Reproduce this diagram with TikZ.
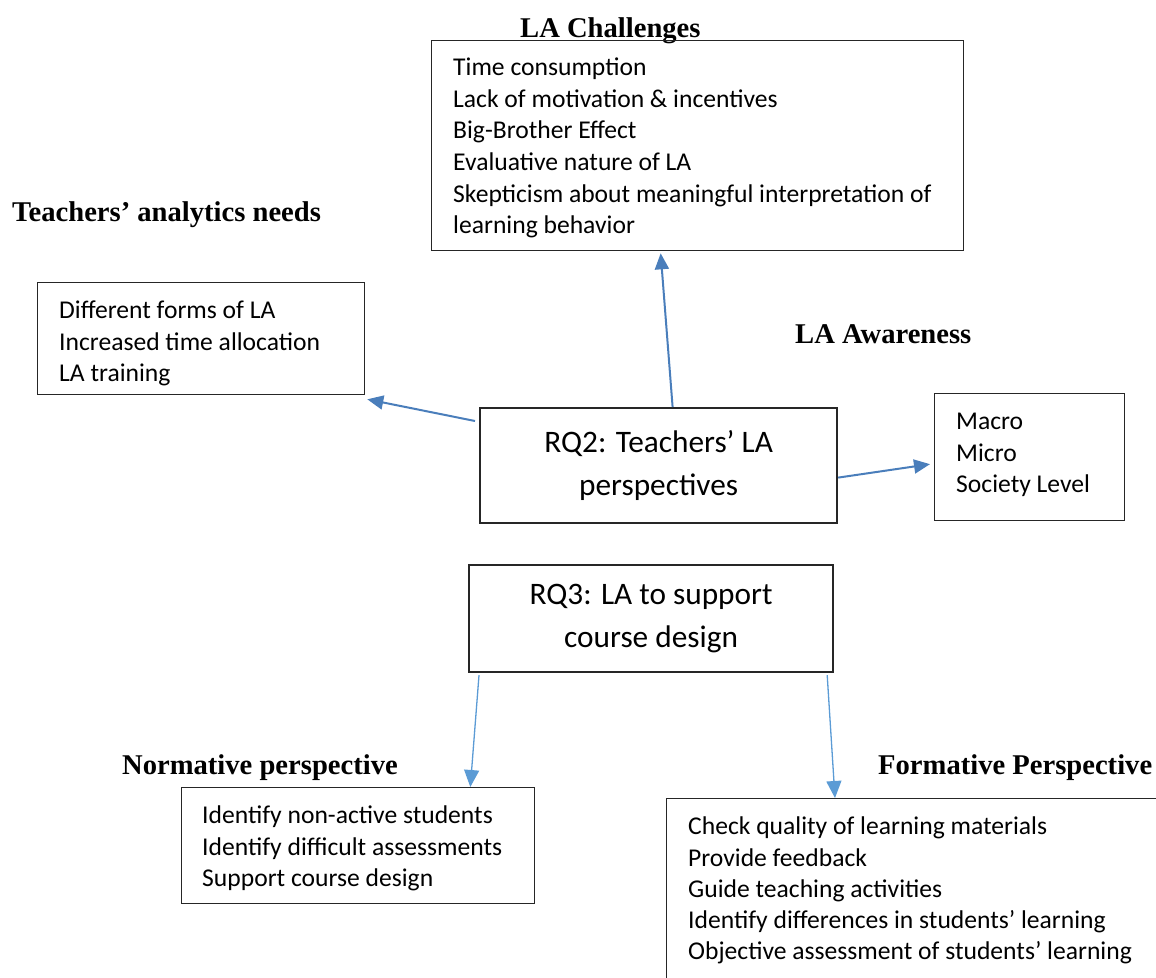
\documentclass[tikz,border=0pt]{standalone}
\usepackage{fontspec}
\setmainfont{Liberation Serif}
\newfontfamily\bodyfont{Carlito}
\usetikzlibrary{arrows.meta}

\definecolor{boxgray}{HTML}{262626}
\definecolor{arrowdark}{HTML}{4A7EBB}
\definecolor{arrowlight}{HTML}{5B9BD5}

% fixed ascent for the first line of a list, so list tops are predictable
\newcommand{\firstline}{\rule{0pt}{22pt}}

\begin{document}
\begin{tikzpicture}[x=1pt, y=-1pt,
  frame/.style={draw=boxgray, line width=1.3pt, inner sep=0pt, anchor=north west},
  listtext/.style={inner sep=0pt, anchor=north west, align=left,
    font=\bodyfont\fontsize{25.6}{31.3}\selectfont},
  rqbox/.style={draw=boxgray, line width=2.2pt, inner sep=0pt, align=center,
    anchor=north west, font=\bodyfont\fontsize{31.3}{43.5}\selectfont},
  heading/.style={inner sep=0pt, anchor=base west,
    font=\bfseries\fontsize{28.6}{34}\selectfont},
  strongarrow/.style={draw=arrowdark, line width=2pt,
    -{Triangle[length=16pt,width=14pt]}},
  lightarrow/.style={draw=arrowlight, line width=1.3pt,
    -{Triangle[length=17pt,width=15pt]}}
]
\useasboundingbox (0,0) rectangle (1156,977);

% headings
\node[heading] (hchal) at (520,37) {LA Challenges};
\node[heading] (hneeds) at (12,221) {Teachers’ analytics needs};
\node[heading] (haware) at (795,343) {LA Awareness};
\node[heading] (hnorm) at (122,774) {Normative perspective};
\node[heading] (hform) at (878,774) {Formative Perspective};

% list frames
\node[frame, minimum width=532pt, minimum height=210pt] (chal) at (431,40) {};
\node[frame, minimum width=327pt, minimum height=112pt] (needs) at (37,282) {};
\node[frame, minimum width=190pt, minimum height=127pt] (aware) at (934,393) {};
\node[frame, minimum width=353pt, minimum height=116pt] (norm) at (181,787) {};
\node[frame, minimum width=520pt, minimum height=200pt] (form) at (666,798) {};

% list contents (first baseline = y + 22)
\node[listtext, font=\bodyfont\fontsize{25.6}{31.6}\selectfont] (chaltext) at (453,53.5)
  {\firstline Time consumption\\Lack of motivation \& incentives\\Big-Brother Effect\\Evaluative nature of LA\\Skepticism about meaningful interpretation of\\learning behavior};
\node[listtext] (needstext) at (59,296.5)
  {\firstline Different forms of LA\\Increased time allocation\\LA training};
\node[listtext] (awaretext) at (956,407.5)
  {\firstline Macro\\Micro\\Society Level};
\node[listtext] (normtext) at (202,801.5)
  {\firstline Identify non-active students\\Identify difficult assessments\\Support course design};
\node[listtext] (formtext) at (688,812.5)
  {\firstline Check quality of learning materials\\Provide feedback\\Guide teaching activities\\Identify differences in students’ learning\\Objective assessment of students’ learning};

% research question boxes
\node[rqbox, minimum width=357pt, minimum height=115pt] (rq2) at (479,407)
  {RQ2: Teachers’ LA\\perspectives};
\node[rqbox, minimum width=364pt, minimum height=107pt] (rq3) at (468,564)
  {RQ3: LA to support\\course design};

% connectors
\draw[strongarrow] ([xshift=14pt]rq2.north) -- ([xshift=-37pt,yshift=-2pt]chal.south);
\draw[strongarrow] ([xshift=-4pt,yshift=-14pt]rq2.north west) -- ([xshift=2pt,yshift=-4pt]needs.south east);
\draw[strongarrow] ([yshift=-12pt]rq2.east) -- ([xshift=-4pt,yshift=-7pt]aware.west);
\draw[lightarrow] ([xshift=11pt,yshift=-2pt]rq3.south west) -- ([xshift=-65pt]norm.north east);
\draw[lightarrow] ([xshift=-7pt,yshift=-2pt]rq3.south east) -- ([xshift=169pt]form.north west);
\end{tikzpicture}
\end{document}
